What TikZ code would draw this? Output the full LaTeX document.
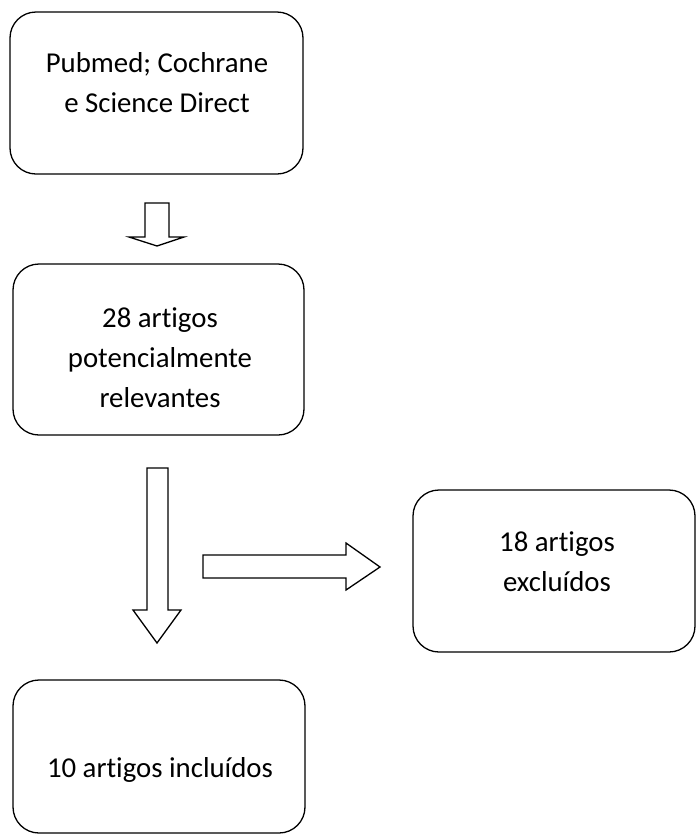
\documentclass[tikz,border=0pt]{standalone}
\usepackage{fontspec}
\setmainfont{Carlito}[Ligatures={NoCommon}]
\begin{document}
\begin{tikzpicture}[x=1pt,y=-1pt,
  box/.style={draw=black, line width=1.3pt, rounded corners=26pt, inner sep=0pt},
  boxtext/.style={align=center, inner sep=0pt, font=\fontsize{28.8}{40}\selectfont},
  blockarrow/.style={draw=black, line width=1.3pt, fill=white, line join=miter}]
\useasboundingbox (0,0) rectangle (696,836);
\node[box, minimum width=293pt, minimum height=162pt] (src) at (156.5,93) {};
\node[boxtext] (srct) at (157,83) {Pubmed; Cochrane\\e Science Direct};
\node[box, minimum width=291pt, minimum height=171pt] (pot) at (158.5,349.5) {};
\node[boxtext] (pott) at (160,358) {28 artigos\\potencialmente\\relevantes};
\node[box, minimum width=282pt, minimum height=162pt] (exc) at (554,571) {};
\node[boxtext] (exct) at (557,562) {18 artigos\\excluídos};
\node[box, minimum width=292pt, minimum height=153pt] (inc) at (159,756.5) {};
\node[boxtext] (inct) at (160,770) {10 artigos incluídos};
% small down arrow
\draw[blockarrow] (145,203) -- (169,203) -- (169,237) -- (184,237) -- (157,246) -- (129,237) -- (145,237) -- cycle;
% big down arrow
\draw[blockarrow] (147,468) -- (168,468) -- (168,610) -- (181,610) -- (157,643) -- (133,610) -- (147,610) -- cycle;
% right arrow
\draw[blockarrow] (203,555) -- (346,555) -- (346,543) -- (380,567) -- (346,590) -- (346,578) -- (203,578) -- cycle;
\end{tikzpicture}
\end{document}
